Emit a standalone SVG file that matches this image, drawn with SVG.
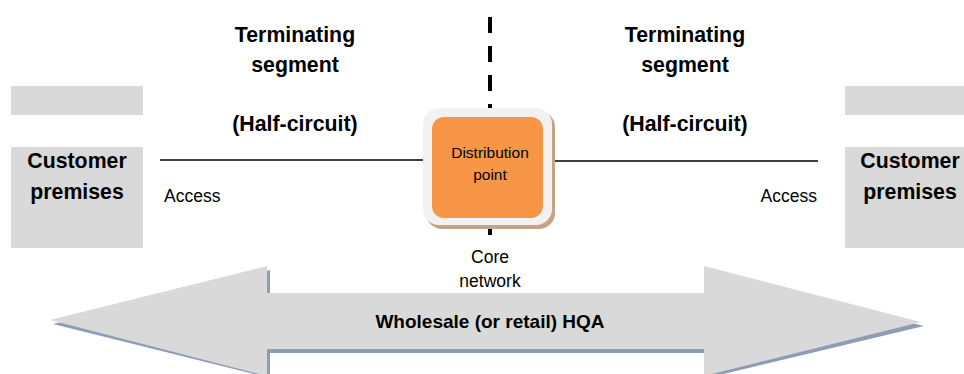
<svg xmlns="http://www.w3.org/2000/svg" width="964" height="374" viewBox="0 0 964 374">
<style>
.b{font-family:"Liberation Sans",Arial,sans-serif;font-weight:bold;font-size:21.3px;fill:#000;text-anchor:middle}
.n{font-family:"Liberation Sans",Arial,sans-serif;font-size:17.5px;fill:#000}
.g{fill:#D9D9D9}
.ln{stroke:#000;stroke-width:1.5;fill:none}
</style>
<rect width="964" height="374" fill="#fff"/>
<g id="arrow">
<polygon points="53,324 270,270 270,297 707,297 707,270 924,326 707,378 707,353 270,353 270,378" fill="#8E9DB5"/>
<polygon points="50,320 267,266 267,293 704,293 704,266 921,322 704,376 704,349 267,349 267,376" fill="#D9D9D9"/>
<text class="b" x="490" y="328" style="font-size:19px">Wholesale (or retail) HQA</text>
</g>
<g id="connectors">
<line x1="490" y1="17" x2="490" y2="235" stroke="#000" stroke-width="4" stroke-dasharray="16,13"/>
<line class="ln" x1="160" y1="160" x2="425" y2="160"/>
<line class="ln" x1="550" y1="161" x2="818" y2="161"/>
</g>
<g id="left-customer">
<rect class="g" x="11" y="86" width="132" height="29"/>
<rect class="g" x="11" y="147" width="132" height="101"/>
<text class="b" x="77" y="168">Customer</text>
<text class="b" x="77" y="199">premises</text>
</g>
<g id="right-customer">
<rect class="g" x="845" y="86" width="119" height="29"/>
<rect class="g" x="845" y="147" width="119" height="101"/>
<text class="b" x="910" y="168">Customer</text>
<text class="b" x="910" y="199">premises</text>
</g>
<g id="left-segment">
<text class="b" x="295" y="42">Terminating</text>
<text class="b" x="295" y="72">segment</text>
<text class="b" x="295" y="131">(Half-circuit)</text>
<text class="n" x="164" y="202">Access</text>
</g>
<g id="right-segment">
<text class="b" x="685" y="42">Terminating</text>
<text class="b" x="685" y="72">segment</text>
<text class="b" x="685" y="131">(Half-circuit)</text>
<text class="n" x="817" y="202" text-anchor="end">Access</text>
</g>
<g id="distribution-point">
<rect x="426" y="111" width="129" height="118" rx="16" fill="#C8A383"/>
<rect x="423" y="108" width="129" height="117" rx="16" fill="#F2F2F2"/>
<rect x="432" y="117" width="111" height="101" rx="12" fill="#F79646"/>
<text class="n" x="490" y="158" text-anchor="middle" style="font-size:15.5px">Distribution</text>
<text class="n" x="490" y="180" text-anchor="middle" style="font-size:15.5px">point</text>
</g>
<g id="core">
<text class="n" x="490" y="263" text-anchor="middle">Core</text>
<text class="n" x="490" y="287" text-anchor="middle">network</text>
</g>
</svg>
